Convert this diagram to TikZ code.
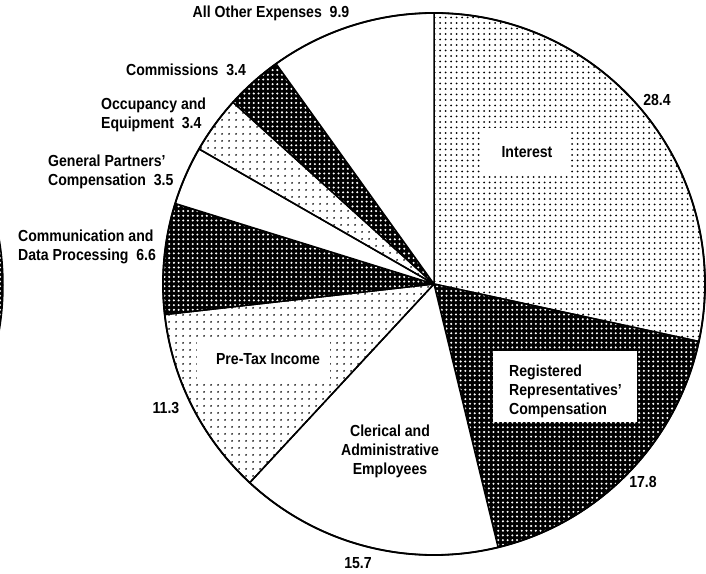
\documentclass[tikz,border=0pt]{standalone}
\usepackage{fontspec}
\setmainfont{Liberation Sans}[FakeStretch=0.88]
\usetikzlibrary{patterns.meta}
\begin{document}
\begin{tikzpicture}[x=1pt,y=1pt,
  lightdots/.style={pattern={Dots[distance=5.5pt,radius=1.0pt]},pattern color=black},
  meddots/.style={pattern={Dots[distance=6.5pt,radius=1.05pt]},pattern color=black},
  darkdots/.style={preaction={fill=black},pattern={Dots[distance=4.7pt,radius=1.15pt]},pattern color=white},
  slice/.style={draw=black,line width=1.5pt,line join=round},
  lab/.style={font=\fontsize{16}{19}\selectfont\bfseries,inner sep=0pt},
  whitebox/.style={fill=white,inner sep=0pt}]
\useasboundingbox (0,0) rectangle (706,573);
\coordinate (O) at (434,289);
% partial neighbouring pie at the left edge
\begin{scope}
  \clip (0,0) rectangle (706,573);
  \path[darkdots,draw=black,line width=1.5pt] (-271,288) circle[radius=274];
\end{scope}
% slices
\path[slice,lightdots] (O) -- ++(90:271) arc[start angle=90,end angle=-12.24,radius=271] -- cycle;
\path[slice,darkdots] (O) -- ++(-12.24:271) arc[start angle=-12.24,end angle=-76.32,radius=271] -- cycle;
\path[slice,fill=white] (O) -- ++(-76.32:271) arc[start angle=-76.32,end angle=-132.84,radius=271] -- cycle;
\path[slice,meddots] (O) -- ++(-132.84:271) arc[start angle=-132.84,end angle=-173.52,radius=271] -- cycle;
\path[slice,darkdots] (O) -- ++(-173.52:271) arc[start angle=-173.52,end angle=-197.28,radius=271] -- cycle;
\path[slice,fill=white] (O) -- ++(-197.28:271) arc[start angle=-197.28,end angle=-209.88,radius=271] -- cycle;
\path[slice,meddots] (O) -- ++(-209.88:271) arc[start angle=-209.88,end angle=-222.12,radius=271] -- cycle;
\path[slice,darkdots] (O) -- ++(-222.12:271) arc[start angle=-222.12,end angle=-234.36,radius=271] -- cycle;
\path[slice,fill=white] (O) -- ++(-234.36:271) arc[start angle=-234.36,end angle=-270,radius=271] -- cycle;
\draw[line width=1.8pt] (O) circle[radius=271];
% white label boxes
\node[whitebox,minimum width=90pt,minimum height=45pt] (intbox) at (525,422.5) {};
\node[whitebox,minimum width=144pt,minimum height=71pt] (regbox) at (565,186.5) {};
\node[whitebox,minimum width=133pt,minimum height=43pt] (prebox) at (263.5,214.5) {};
% labels inside
\node[lab] (interest) at (527,421) {Interest};
\node[lab,anchor=west,align=left] (regist) at (509,182) {Registered\\Representatives'\\Compensation};
\node[lab] (pretax) at (268,214) {Pre-Tax Income};
\node[lab,align=center] (cleric) at (390,122) {Clerical and\\Administrative\\Employees};
% outside labels
\node[lab] (allother) at (271,560) {All Other Expenses~ 9.9};
\node[lab] (commis) at (186,503) {Commissions~ 3.4};
\node[lab,anchor=west,align=left] (occup) at (101,458) {Occupancy and\\Equipment~ 3.4};
\node[lab,anchor=west,align=left] (genpart) at (48,401) {General Partners'\\Compensation~ 3.5};
\node[lab,anchor=west,align=left] (commun) at (18,326) {Communication and\\Data Processing~ 6.6};
\node[lab] (v284) at (657,473) {28.4};
\node[lab] (v178) at (643,91) {17.8};
\node[lab] (v157) at (358,10) {15.7};
\node[lab] (v113) at (166,165) {11.3};
\end{tikzpicture}
\end{document}
